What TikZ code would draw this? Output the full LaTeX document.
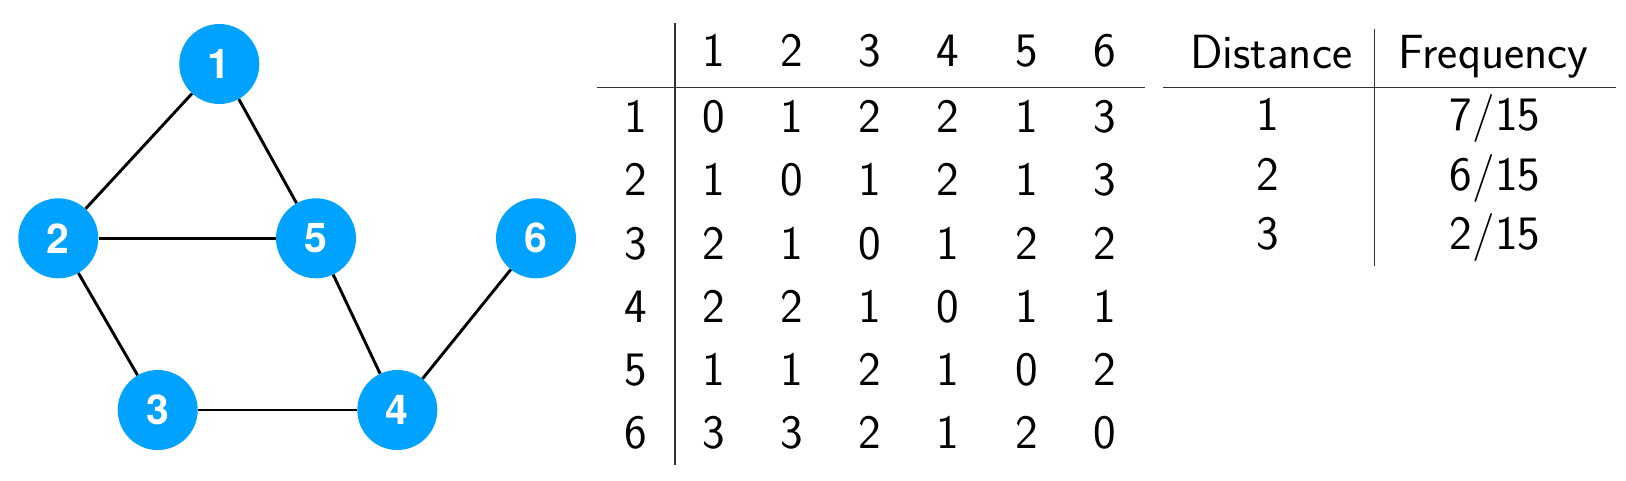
\documentclass[tikz,border=0pt]{standalone}
\usepackage{fontspec}
\newfontfamily\nodefont{TeX Gyre Heros}
\definecolor{vblue}{RGB}{0,162,255}
\tikzset{
  vertex/.style={circle, fill=vblue, minimum size=80pt, inner sep=0pt,
    text=white, font=\nodefont\bfseries\fontsize{41}{41}\selectfont},
  edge/.style={line width=2.9pt, black},
  cell/.style={anchor=base, inner sep=0pt, font=\sffamily\fontsize{48}{48}\selectfont},
  rule/.style={line width=1.4pt, black!80}
}
\begin{document}
\begin{tikzpicture}[x=1pt,y=-1pt]
\useasboundingbox (0,0) rectangle (1626,480);
% graph
\node[vertex] (n1) at (219.3,64) {1};
\node[vertex] (n2) at (58.3,238.3) {2};
\node[vertex] (n5) at (316,238.3) {5};
\node[vertex] (n6) at (536,238.3) {6};
\node[vertex] (n3) at (157.7,410) {3};
\node[vertex] (n4) at (397.3,410) {4};
\draw[edge] (n1) -- (n2);
\draw[edge] (n1) -- (n5);
\draw[edge] (n2) -- (n5);
\draw[edge] (n2) -- (n3);
\draw[edge] (n3) -- (n4);
\draw[edge] (n5) -- (n4);
\draw[edge] (n4) -- (n6);
% distance matrix
\foreach \j in {1,...,6} {
  \node[cell] (h\j) at ({713.3+78.3*(\j-1)},66.7) {\j};
}
\foreach \i/\vals in {1/{0,1,2,2,1,3},2/{1,0,1,2,1,3},3/{2,1,0,1,2,2},4/{2,2,1,0,1,1},5/{1,1,2,1,0,2},6/{3,3,2,1,2,0}} {
  \node[cell] (r\i) at (636,{132.7+63.2*(\i-1)}) {\i};
  \foreach \v [count=\j] in \vals {
    \node[cell] (m\i-\j) at ({713.3+78.3*(\j-1)},{132.7+63.2*(\i-1)}) {\v};
  }
}
\coordinate (mvt) at (675,22.7);
\coordinate (mvb) at (675,465);
\coordinate (mhl) at (596.7,87.3);
\coordinate (mhr) at (1145,87.3);
\draw[rule] (mvt) -- (mvb);
\draw[rule] (mhl) -- (mhr);
% frequency table
\node[cell] (dh) at (1271.2,68.3) {Distance};
\node[cell] (fh) at (1493.3,68.3) {Frequency};
\node[cell] (d1) at (1267.7,130.7) {1};
\node[cell] (d2) at (1267.7,190) {2};
\node[cell] (d3) at (1267.7,249.5) {3};
\node[cell] (f1) at (1495,130.7) {7/15};
\node[cell] (f2) at (1495,190) {6/15};
\node[cell] (f3) at (1495,249.5) {2/15};
\coordinate (fvt) at (1374.3,29.3);
\coordinate (fvb) at (1374.3,265.7);
\coordinate (fhl) at (1163.3,87.3);
\coordinate (fhr) at (1616,87.3);
\draw[rule] (fvt) -- (fvb);
\draw[rule] (fhl) -- (fhr);
\end{tikzpicture}
\end{document}
